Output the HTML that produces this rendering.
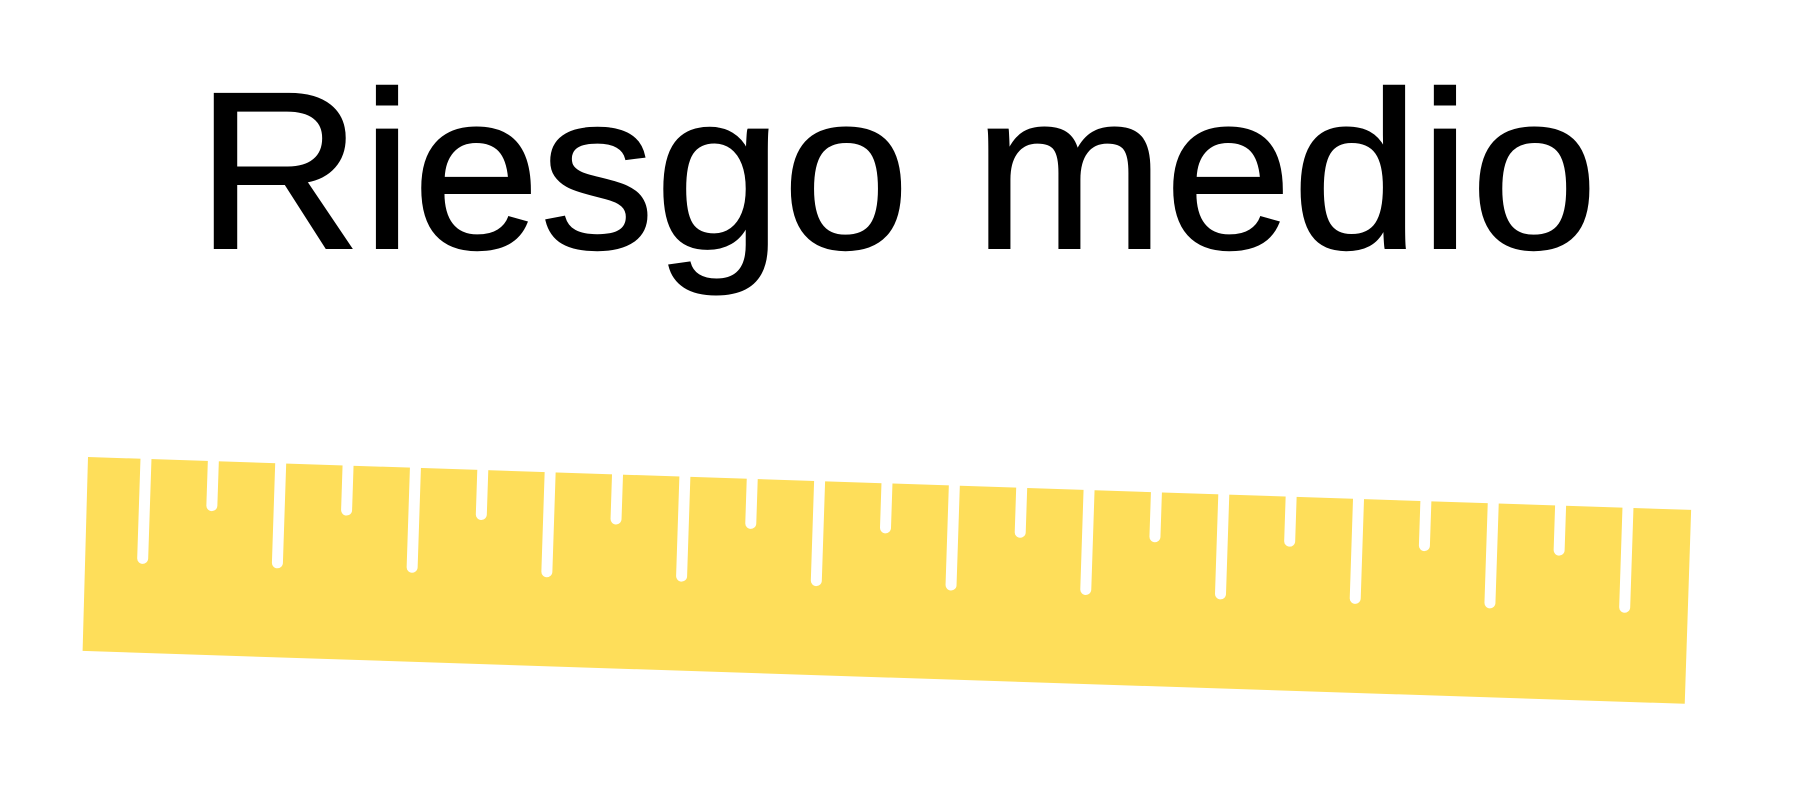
<!DOCTYPE html>
<html><head><meta charset="utf-8"><style>
html,body{margin:0;padding:0;background:#fff;}
svg{display:block;}
</style></head><body>
<svg id="chart" width="1800" height="800" viewBox="0 0 1800 800">
  <text x="196" y="248" font-family="'Liberation Sans', sans-serif" font-size="224" fill="#000" stroke="#000" stroke-width="2" textLength="1402" lengthAdjust="spacingAndGlyphs">Riesgo medio</text>
  <g id="ruler" transform="translate(88,457) rotate(1.89)">
    <polygon points="0,0 1604,0 1604,194 1,194" fill="#fede5a"></polygon>
  </g>
</svg>
<script>
const tickKinds = ["long","short","long","short","long","short","long","short","long","short","long","short","long","short","long","short","long","short","long","short","long","short","long"];
const tickDepths = {long: 105, short: 50};
const g = document.getElementById('ruler');
const ns = 'http://www.w3.org/2000/svg';
const start = 58, step = 67.4, w = 11;
tickKinds.forEach((k, i) => {
  const x = start + i * step;
  const d = tickDepths[k];
  const p = document.createElementNS(ns, 'path');
  p.setAttribute('d', `M${x - w/2},-2 L${x + w/2},-2 L${x + w/2},${d - w/2} A${w/2},${w/2} 0 0 1 ${x - w/2},${d - w/2} Z`);
  p.setAttribute('fill', '#fff');
  
  
  g.appendChild(p);
});
</script>
</body></html>
